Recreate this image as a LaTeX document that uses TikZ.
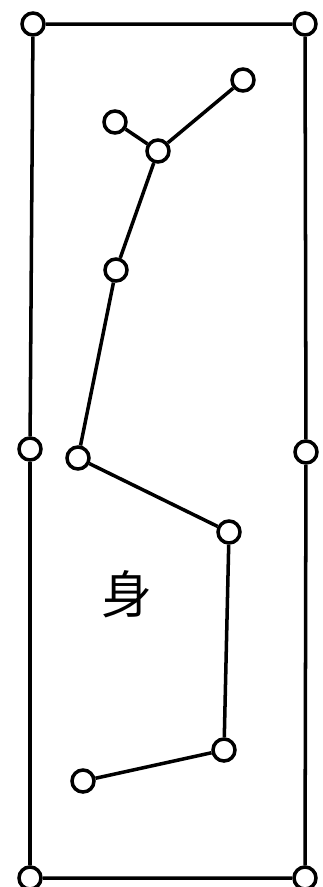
\documentclass[tikz,border=0pt]{standalone}
\usepackage{fontspec}
\newfontfamily\cjk{Noto Sans CJK SC}
\usetikzlibrary{positioning}
\definecolor{tinta}{HTML}{000000}

\begin{document}
\begin{tikzpicture}[x=0.02cm, y=-0.02cm, line width=2pt,
  nudo/.style={circle,draw=tinta,fill=white,minimum size=0.44cm,inner sep=0pt}]
  \useasboundingbox (0,0) rectangle (323,887);
  % marco
  \foreach \n/\x/\y in {a/33/24, b/305/24, c/306/452, d/305/878, e/30/878, f/30/449}
    \node[nudo] (\n) at (\x,\y) {};
  \draw[tinta] (a) -- (b) -- (c) -- (d) -- (e) -- (f) -- (a);
  % cadena
  \foreach \n/\x/\y in {p1/243/80, p2/115/122, p3/158/151, p4/116/270,
                        p5/78/458, p6/229/532, p7/224/750, p8/83/781}
    \node[nudo] (\n) at (\x,\y) {};
  \draw[tinta] (p1) -- (p3) -- (p4) -- (p5) -- (p6) -- (p7) -- (p8);
  \draw[tinta] (p2) -- (p3);
  \node[tinta,font=\cjk\fontsize{29pt}{29pt}\selectfont] (shen) at (127,594) {身};
\end{tikzpicture}
\end{document}
